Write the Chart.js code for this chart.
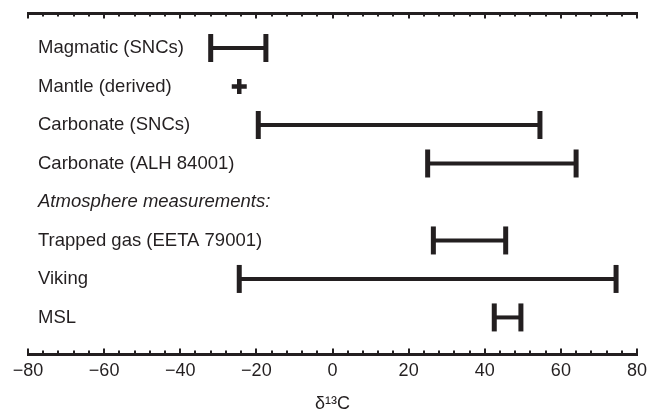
<!DOCTYPE html>
<html>
<head>
<meta charset="utf-8">
<script src="https://cdn.jsdelivr.net/npm/chart.js@4"></script>
<style>
  html, body { margin: 0; padding: 0; background: #fff; }
  #wrap { width: 647px; height: 415px; }
</style>
</head>
<body>
<div id="wrap"><canvas id="myChart" width="647" height="415"></canvas></div>
<script>
// rows from top to bottom
const rowLabels = [
  "Magmatic (SNCs)",
  "Mantle (derived)",
  "Carbonate (SNCs)",
  "Carbonate (ALH 84001)",
  "Atmosphere measurements:",
  "Trapped gas (EETA 79001)",
  "Viking",
  "MSL",
];
// delta 13C ranges (null = no range on that row)
const rangeLow = [-32, null, -19.5, 25, null, 26.5, -24.5, 42.5];
const rangeHigh = [-17.5, null, 54.5, 64, null, 45.5, 74.5, 49.5];
// single values drawn as a cross
const pointValue = [null, -24.5, null, null, null, null, null, null];
const headerRow = 4;

const xTicks = [-80, -60, -40, -20, 0, 20, 40, 60, 80];

const ink = "#231f20";
Chart.defaults.font.family = "'Liberation Sans', Arial, sans-serif";
Chart.defaults.color = ink;

function buildDatasets() {
  const sets = [];
  rowLabels.forEach((label, i) => {
    if (rangeLow[i] !== null) {
      sets.push({
        type: "line",
        label: label,
        data: [
          { x: rangeLow[i], y: i + 1 },
          { x: rangeHigh[i], y: i + 1 },
        ],
        borderColor: ink,
        borderWidth: 4,
        pointStyle: "line",
        rotation: 90,
        pointRadius: 14,
        pointHoverRadius: 14,
        pointBorderWidth: 5,
        pointBorderColor: ink,
        pointBackgroundColor: ink,
      });
    }
    if (pointValue[i] !== null) {
      sets.push({
        type: "scatter",
        label: label,
        data: [{ x: pointValue[i], y: i + 1 }],
        pointStyle: "cross",
        pointRadius: 7.5,
        pointBorderWidth: 4.5,
        pointBorderColor: ink,
      });
    }
  });
  return sets;
}

// no extra room for labels that hang over the plot edges
function noOverhang(axis) {
  axis.paddingLeft = 0;
  axis.paddingRight = 0;
  axis.paddingTop = 0;
  axis.paddingBottom = 0;
}

// small tick marks pointing into the plot, on top and bottom axis
const minorStep = 4;
const majorStep = 20;
const innerTicks = {
  id: "innerTicks",
  afterDraw(chart) {
    const { ctx, chartArea, scales } = chart;
    const x = scales.x;
    ctx.save();
    ctx.strokeStyle = ink;
    ctx.lineWidth = 2;
    for (let v = x.min; v <= x.max + 0.001; v += minorStep) {
      const px = Math.round(x.getPixelForValue(v));
      const len = Math.abs(v % majorStep) < 0.001 ? 5.5 : 3.5;
      ctx.beginPath();
      ctx.moveTo(px, chartArea.bottom);
      ctx.lineTo(px, chartArea.bottom - len);
      ctx.moveTo(px, chartArea.top);
      ctx.lineTo(px, chartArea.top + len);
      ctx.stroke();
    }
    ctx.restore();
  },
};

function createChart() {
  const config = {
    type: "scatter",
    data: { datasets: buildDatasets() },
    options: {
      responsive: false,
      animation: false,
      layout: {
        autoPadding: false,
        padding: { left: 28, right: 10, top: 0, bottom: 0 },
      },
      plugins: { legend: { display: false }, tooltip: { enabled: false } },
      scales: {
        x: {
          type: "linear",
          position: "bottom",
          min: -80,
          max: 80,
          afterBuildTicks: (axis) => {
            axis.ticks = xTicks.map((v) => ({ value: v }));
          },
          afterFit: (axis) => {
            axis.height = 61;
            noOverhang(axis);
          },
          grid: { display: false, drawTicks: false },
          border: { display: true, width: 3, color: ink },
          ticks: {
            padding: 6,
            font: { size: 18 },
            color: ink,
            callback: (v) => (v < 0 ? "\u2212" + Math.abs(v) : String(v)),
          },
          title: {
            display: true,
            text: "\u03b4\u00b9\u00b3C",
            font: { size: 18 },
            color: ink,
            padding: { top: 0, bottom: 0 },
          },
        },
        x2: {
          type: "linear",
          axis: "x",
          position: "top",
          min: -80,
          max: 80,
          afterFit: (axis) => {
            axis.height = 13;
            noOverhang(axis);
          },
          grid: { display: false, drawTicks: false },
          border: { display: true, width: 3, color: ink },
          ticks: { display: false },
        },
        y: {
          type: "linear",
          reverse: true,
          min: 0.09,
          max: 8.95,
          afterBuildTicks: (axis) => {
            axis.ticks = rowLabels.map((_, i) => ({ value: i + 1 }));
          },
          afterFit: (axis) => {
            axis.width = 0;
            noOverhang(axis);
          },
          grid: { display: false, drawTicks: false },
          border: { display: false },
          ticks: {
            mirror: true,
            padding: 10,
            autoSkip: false,
            color: ink,
            font: (ctx) =>
              ctx.index === headerRow
                ? { size: 18.5, style: "italic" }
                : { size: 18.5 },
            callback: (v, i) => rowLabels[i],
          },
        },
      },
    },
    plugins: [innerTicks],
  };
  return new Chart(document.getElementById("myChart"), config);
}

createChart();
</script>
</body>
</html>
